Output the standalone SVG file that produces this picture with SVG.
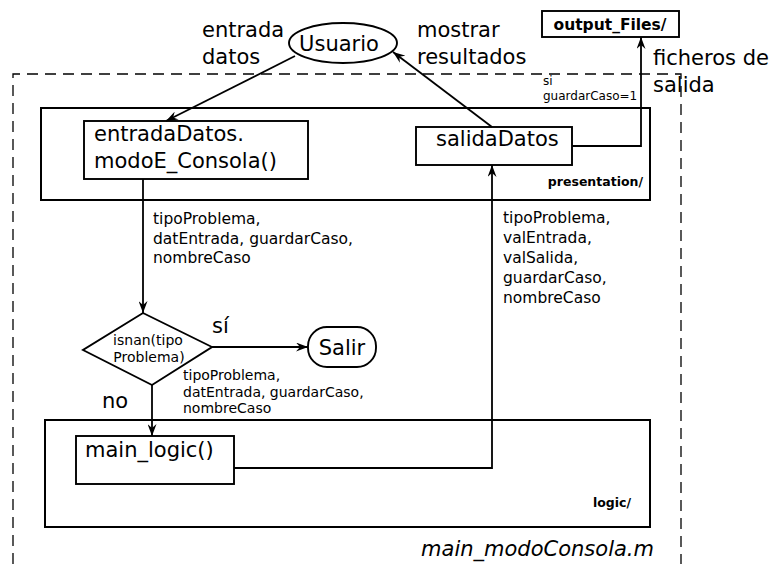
<svg xmlns="http://www.w3.org/2000/svg" width="773" height="564" viewBox="0 0 773 564">
<style>
text{font-family:"DejaVu Sans","Liberation Sans",sans-serif;fill:#000}
.big{font-size:21px}
.mid{font-size:15.5px}
.sm{font-size:14px}
.xs{font-size:12px}
.bold{font-weight:bold;font-size:12.5px}
.box{fill:#fff;stroke:#000;stroke-width:2}
.inner{fill:#fff;stroke:#000;stroke-width:1.9}
.conn{fill:none;stroke:#000;stroke-width:1.8}
</style>
<defs>
<marker id="ah" viewBox="0 0 12 9" markerWidth="12" markerHeight="9" refX="12" refY="4.5" orient="auto" markerUnits="userSpaceOnUse">
<path d="M0,0 L12,4.5 L0,9 L4,4.5 Z" fill="#000"/>
</marker>
</defs>
<rect width="773" height="564" fill="#fff"/>

<g id="outer">
<path d="M13,564 V74 H681 V564" fill="none" stroke="#000" stroke-width="1.3" stroke-dasharray="11 7"/>
<text class="big" x="654" y="556" text-anchor="end" font-style="italic">main_modoConsola.m</text>
</g>

<g id="presentation">
<rect class="box" x="41" y="108" width="609" height="92"/>
<text class="bold" x="643" y="186" text-anchor="end">presentation/</text>
</g>

<g id="logic">
<rect class="box" x="45" y="420" width="605" height="107"/>
<text class="bold" x="631" y="507" text-anchor="end">logic/</text>
</g>

<g id="usuario">
<ellipse cx="343" cy="43" rx="54" ry="20" fill="#fff" stroke="#000" stroke-width="1.9"/>
<text class="big" x="339" y="51" text-anchor="middle">Usuario</text>
</g>

<g id="outputFiles">
<rect class="inner" x="542" y="11" width="137" height="26"/>
<text x="610" y="30" text-anchor="middle" font-weight="bold" font-size="15.5px">output_Files/</text>
</g>

<g id="entradaDatos">
<rect class="inner" x="84" y="121" width="224" height="58"/>
<text class="big" x="94" y="141">entradaDatos.</text>
<text class="big" x="94" y="168">modoE_Consola()</text>
</g>

<g id="salidaDatos">
<rect class="inner" x="416" y="127" width="156" height="38"/>
<text class="big" x="436" y="146">salidaDatos</text>
</g>

<g id="decision">
<polygon points="143,313 212,347 152,385 83,350" fill="#fff" stroke="#000" stroke-width="1.9"/>
<text class="sm" x="148" y="345" text-anchor="middle">isnan(tipo</text>
<text class="sm" x="149" y="362" text-anchor="middle">Problema)</text>
</g>

<g id="salir">
<rect class="inner" x="308" y="327" width="68" height="40" rx="19" ry="19"/>
<text class="big" x="342" y="355" text-anchor="middle">Salir</text>
</g>

<g id="mainLogic">
<rect class="inner" x="76" y="436" width="158" height="48"/>
<text class="big" x="85" y="457">main_logic()</text>
</g>

<g id="connectors">
<path class="conn" d="M295,56 L166,121" marker-end="url(#ah)"/>
<path class="conn" d="M492,127 L393,52" marker-end="url(#ah)"/>
<path class="conn" d="M572,146 H641 V37" marker-end="url(#ah)"/>
<path class="conn" d="M143,179 V313" marker-end="url(#ah)"/>
<path class="conn" d="M212,347 H308" marker-end="url(#ah)"/>
<path class="conn" d="M152,385 V436" marker-end="url(#ah)"/>
<path class="conn" d="M234,468 H492 V165" marker-end="url(#ah)"/>
</g>

<g id="labels">
<text class="big" x="202" y="37">entrada</text>
<text class="big" x="202" y="64">datos</text>
<text class="big" x="417" y="37">mostrar</text>
<text class="big" x="417" y="64">resultados</text>
<text class="big" x="653" y="65">ficheros de</text>
<text class="big" x="653" y="92">salida</text>
<text class="xs" x="543" y="85">si</text>
<text class="xs" x="543" y="100">guardarCaso=1</text>
<text class="mid" x="153" y="224">tipoProblema,</text>
<text class="mid" x="153" y="244">datEntrada, guardarCaso,</text>
<text class="mid" x="153" y="263">nombreCaso</text>
<text class="mid" x="503" y="223">tipoProblema,</text>
<text class="mid" x="503" y="243">valEntrada,</text>
<text class="mid" x="503" y="263">valSalida,</text>
<text class="mid" x="503" y="283">guardarCaso,</text>
<text class="mid" x="503" y="303">nombreCaso</text>
<text class="sm" x="183" y="380">tipoProblema,</text>
<text class="sm" x="183" y="397">datEntrada, guardarCaso,</text>
<text class="sm" x="183" y="413">nombreCaso</text>
<text class="big" x="212" y="333">sí</text>
<text class="big" x="102" y="408">no</text>
</g>
</svg>
